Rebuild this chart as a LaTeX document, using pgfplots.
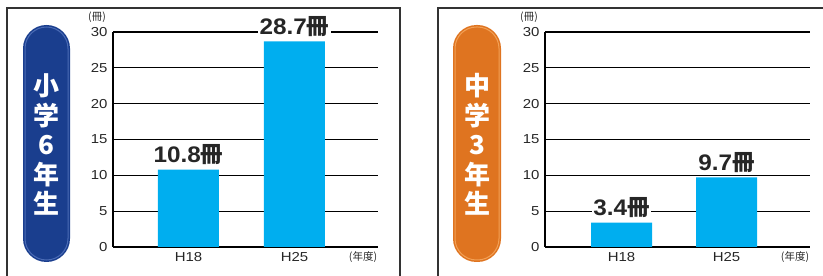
\documentclass[border=0pt]{standalone}
\usepackage{fontspec}
\usepackage{pgfplots}
\pgfplotsset{compat=1.18}
\setmainfont{Liberation Sans}[FakeStretch=1.15]
\newfontfamily\jp{Noto Sans CJK JP}
\newfontfamily\valfont{Liberation Sans}[FakeStretch=1.08]
\definecolor{barc}{HTML}{00AEEF}
\definecolor{navyb}{HTML}{1A3E8E}
\definecolor{navyl}{HTML}{4A6BB5}
\definecolor{orb}{HTML}{DF7420}
\definecolor{orl}{HTML}{F2A055}
\definecolor{frame}{HTML}{333333}
\pgfplotsset{panel/.style={
  scale only axis, width=265pt, height=215pt,
  ymin=0, ymax=30, ytick={0,5,...,30},
  xtick={0,1}, xticklabels={H18,H25},
  axis x line=bottom, axis y line=left,
  axis line style={-, black, line width=1.2pt},
  ymajorgrids, grid style={black, line width=1.2pt},
  major tick length=0pt,
  /pgf/number format/assume math mode=true,
  tick label style={font=\fontsize{13}{13}\selectfont, text=black!85},
  yticklabel style={xshift=-2pt},
  xticklabel style={yshift=-2pt},
  ybar, bar width=61pt, bar shift=0pt,
  nodes near coords={\pgfmathprintnumber[fixed,fixed zerofill,precision=1]{\pgfplotspointmeta}{\jp\bfseries 冊}},
  every node near coord/.append style={anchor=base, yshift=7pt, fill=white, inner sep=1.5pt,
     font=\valfont\bfseries\fontsize{22.5}{22}\selectfont, text=black!85},
}}
\begin{document}
\begin{tikzpicture}[x=1pt,y=1pt]
\useasboundingbox (0,0) rectangle (823,276);
\begin{scope}
\clip (0,0) rectangle (823,276);
\draw[frame, line width=2pt] (7,268) rectangle (400,-10);
\draw[frame, line width=2pt] (438,268) rectangle (840,-10);

% badges
\fill[navyb, rounded corners=23.5pt] (23,14) rectangle (70,251);
\draw[navyl, line width=1pt, rounded corners=21.5pt] (25,16) rectangle (68,249);
\node[text=white, font=\jp\bfseries\fontsize{26}{29.5}\selectfont, align=center] at (46.5,131.5) {小\\学\\6\\年\\生};

\fill[orb, rounded corners=23.5pt] (453,14) rectangle (501,251);
\draw[orl, line width=1pt, rounded corners=21.5pt] (455,16) rectangle (499,249);
\node[text=white, font=\jp\bfseries\fontsize{26}{29.5}\selectfont, align=center] at (477,131.5) {中\\学\\3\\年\\生};
\end{scope}

\begin{axis}[panel, at={(113pt,29pt)}, xmin=-0.712, xmax=1.788, anchor=south west]
\addplot[fill=barc, draw=none] coordinates {(0,10.8) (1,28.7)};
\end{axis}
\begin{axis}[panel, at={(545pt,29pt)}, xmin=-0.729, xmax=1.795, anchor=south west]
\addplot[fill=barc, draw=none] coordinates {(0,3.4) (1,9.7)};
\end{axis}

\node[font=\jp\fontsize{10.5}{11}\selectfont, text=black!85] at (97,259) {(冊)};
\node[font=\jp\fontsize{10.5}{11}\selectfont, text=black!85] at (529,259) {(冊)};
\node[font=\jp\fontsize{10.5}{11}\selectfont, text=black!85] at (363,19) {(年度)};
\node[font=\jp\fontsize{10.5}{11}\selectfont, text=black!85] at (795,19) {(年度)};
\end{tikzpicture}
\end{document}
